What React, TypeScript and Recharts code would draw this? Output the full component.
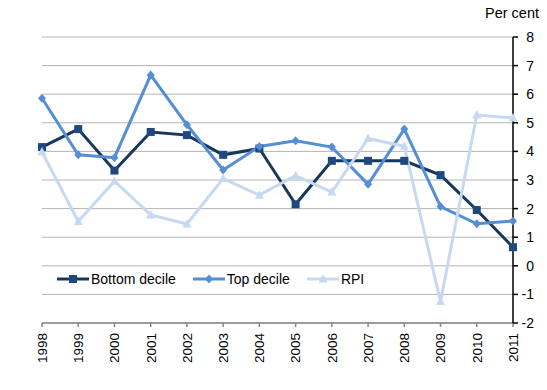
import { LineChart, Line, XAxis, YAxis, CartesianGrid, Legend } from 'recharts';

const years = ['1998', '1999', '2000', '2001', '2002', '2003', '2004', '2005', '2006', '2007', '2008', '2009', '2010', '2011'];
const bottomDecile = [4.15, 4.78, 3.33, 4.68, 4.57, 3.88, 4.1, 2.15, 3.67, 3.67, 3.67, 3.17, 1.95, 0.65];
const topDecile = [5.86, 3.88, 3.78, 6.67, 4.93, 3.35, 4.17, 4.37, 4.15, 2.85, 4.78, 2.07, 1.47, 1.57];
const rpi = [3.98, 1.55, 2.96, 1.78, 1.46, 3.05, 2.47, 3.15, 2.58, 4.45, 4.18, -1.25, 5.27, 5.17];
const yTicks = [-2, -1, 0, 1, 2, 3, 4, 5, 6, 7, 8];

const data = years.map((year, i) => ({
    year,
    bottom: bottomDecile[i],
    top: topDecile[i],
    rpi: rpi[i],
}));

const FONT = '"Liberation Sans", Arial, sans-serif';
const DARK = '#17375E';
const DARK_MARK = '#1F497D';
const MID = '#558ED5';
const LIGHT = '#C6D9F1';

const squareDot = (props: any) => {
    const { cx, cy, index } = props;
    return <rect key={`sq-${index}`} x={cx - 4} y={cy - 4} width={8} height={8} fill={DARK_MARK} />;
};

const diamondDot = (props: any) => {
    const { cx, cy, index } = props;
    return (
        <path
            key={`dm-${index}`}
            d={`M${cx},${cy - 4.5} L${cx + 4},${cy} L${cx},${cy + 4.5} L${cx - 4},${cy} Z`}
            fill={MID}
        />
    );
};

const triangleDot = (props: any) => {
    const { cx, cy, index } = props;
    return (
        <path
            key={`tr-${index}`}
            d={`M${cx},${cy - 5} L${cx + 4.5},${cy + 3.5} L${cx - 4.5},${cy + 3.5} Z`}
            fill={LIGHT}
        />
    );
};

const XTick = (props: any) => {
    const { x, y, payload } = props;
    const ty = y + 4;
    return (
        <text
            x={x}
            y={ty}
            dy="0.36em"
            transform={`rotate(-90, ${x}, ${ty})`}
            textAnchor="end"
            fill="#000"
            fontSize={13.5}
            fontFamily={FONT}
        >
            {payload.value}
        </text>
    );
};

const YTick = (props: any) => {
    const { x, y, payload } = props;
    return (
        <text x={x + 14} y={y} dy="0.36em" textAnchor="end" fill="#000" fontSize={14} fontFamily={FONT}>
            {payload.value}
        </text>
    );
};

const legendItems = [
    { label: 'Bottom decile', color: DARK, mark: 'square' },
    { label: 'Top decile', color: MID, mark: 'diamond' },
    { label: 'RPI', color: LIGHT, mark: 'triangle' },
];

const renderLegend = () => (
    <div style={{ display: 'flex', alignItems: 'center', fontFamily: FONT, fontSize: 14, color: '#000', whiteSpace: 'nowrap' }}>
        {legendItems.map((item) => (
            <div key={item.label} style={{ display: 'flex', alignItems: 'center', marginRight: 17 }}>
                <svg width={32} height={10} style={{ marginRight: 2 }}>
                    <line x1={0} y1={5} x2={32} y2={5} stroke={item.color} strokeWidth={3} />
                    {item.mark === 'square' && <rect x={12} y={1} width={8} height={8} fill={DARK_MARK} />}
                    {item.mark === 'diamond' && <path d="M16,0.5 L20,5 L16,9.5 L12,5 Z" fill={MID} />}
                    {item.mark === 'triangle' && <path d="M16,0 L20.5,8.5 L11.5,8.5 Z" fill={LIGHT} />}
                </svg>
                <span>{item.label}</span>
            </div>
        ))}
    </div>
);

const App = () => {
    return (
        <div style={{ position: 'absolute', left: 0, top: 0, width: 547, height: 390, background: '#fff' }}>
            <div
                style={{
                    position: 'absolute',
                    right: 8,
                    top: 5,
                    fontFamily: FONT,
                    fontSize: 14.5,
                    color: '#000',
                    zIndex: 2,
                }}
            >
                Per cent
            </div>
            <LineChart width={547} height={390} data={data} margin={{ top: 37, right: 0, left: 42, bottom: 0 }}>
                <CartesianGrid vertical={false} stroke="#B4B4B4" strokeWidth={1} />
                <XAxis
                    dataKey="year"
                    height={67}
                    interval={0}
                    tick={<XTick />}
                    tickSize={4}
                    axisLine={{ stroke: '#868686', strokeWidth: 1.5 }}
                    tickLine={{ stroke: '#868686', strokeWidth: 1.5 }}
                />
                <YAxis
                    orientation="right"
                    width={34}
                    domain={[-2, 8]}
                    ticks={yTicks}
                    interval={0}
                    tick={<YTick />}
                    tickSize={5}
                    axisLine={{ stroke: '#000', strokeWidth: 1.5 }}
                    tickLine={{ stroke: '#000', strokeWidth: 1.5 }}
                />
                <Legend
                    layout="horizontal"
                    verticalAlign="middle"
                    content={renderLegend}
                    wrapperStyle={{ left: 57, top: 271, width: 'auto' }}
                />
                <Line dataKey="bottom" name="Bottom decile" stroke={DARK} strokeWidth={3} dot={squareDot} activeDot={false} isAnimationActive={false} />
                <Line dataKey="top" name="Top decile" stroke={MID} strokeWidth={3} dot={diamondDot} activeDot={false} isAnimationActive={false} />
                <Line dataKey="rpi" name="RPI" stroke={LIGHT} strokeWidth={3} dot={triangleDot} activeDot={false} isAnimationActive={false} />
            </LineChart>
        </div>
    );
};

export default App;
